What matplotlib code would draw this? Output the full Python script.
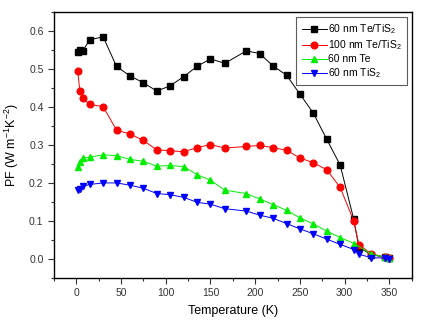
import matplotlib
matplotlib.use("Agg")
import matplotlib.pyplot as plt
from matplotlib.ticker import MultipleLocator

plt.rcParams['font.family'] = ['Liberation Sans', 'DejaVu Sans']
plt.rcParams['mathtext.fontset'] = 'custom'
plt.rcParams['mathtext.rm'] = 'Liberation Sans'
plt.rcParams['mathtext.it'] = 'Liberation Sans'

# temperature (K) and power factor values
t_tete = [1.5, 4, 7, 15, 30, 45, 60, 75, 90, 105, 120, 135, 150, 166, 190, 205,
          220, 235, 250, 265, 280, 295, 310, 316, 330, 345, 350]
pf_tete60 = [0.545, 0.550, 0.547, 0.577, 0.585, 0.507, 0.482, 0.464, 0.442, 0.456,
             0.480, 0.507, 0.527, 0.515, 0.548, 0.541, 0.508, 0.484, 0.434, 0.384,
             0.315, 0.247, 0.106, 0.030, 0.011, 0.004, 0.003]
pf_tete100 = [0.496, 0.443, 0.424, 0.407, 0.401, 0.339, 0.329, 0.312, 0.287, 0.285,
              0.282, 0.293, 0.301, 0.292, 0.296, 0.299, 0.293, 0.286, 0.266, 0.253,
              0.235, 0.188, 0.101, 0.037, 0.013, 0.005, 0.003]

t_te = [1.5, 4, 7, 15, 30, 45, 60, 75, 90, 105, 120, 135, 150, 166, 190, 205,
        220, 235, 250, 265, 280, 295, 311, 330, 345, 350]
pf_te = [0.243, 0.255, 0.266, 0.268, 0.274, 0.272, 0.262, 0.257, 0.244, 0.246,
         0.243, 0.222, 0.207, 0.181, 0.172, 0.158, 0.143, 0.128, 0.108, 0.092,
         0.073, 0.056, 0.040, 0.012, 0.005, 0.002]

t_tis = [1.5, 4, 7, 15, 30, 45, 60, 75, 90, 105, 120, 135, 150, 166, 190, 205,
         220, 235, 250, 265, 280, 295, 311, 316, 330, 345, 350]
pf_tis = [0.182, 0.185, 0.191, 0.196, 0.200, 0.200, 0.194, 0.186, 0.172, 0.169,
          0.162, 0.149, 0.144, 0.132, 0.126, 0.115, 0.107, 0.093, 0.079, 0.066,
          0.052, 0.038, 0.024, 0.012, 0.003, 0.002, 0.000]

fig = plt.figure(figsize=(4.28, 3.28), dpi=100)
ax = fig.add_axes([0.126, 0.153, 0.836, 0.81])

ms = 4.2
lw = 0.7
ax.plot(t_tete, pf_tete60, '-s', color='black', ms=ms, lw=lw, label='60 nm Te/TiS$_2$')
ax.plot(t_tete, pf_tete100, '-o', color='red', ms=ms + 0.6, lw=lw, label='100 nm Te/TiS$_2$')
ax.plot(t_te, pf_te, '-^', color='#00ee00', ms=ms + 0.6, lw=lw, label='60 nm Te')
ax.plot(t_tis, pf_tis, '-v', color='blue', ms=ms + 0.6, lw=lw, label='60 nm TiS$_2$')

ax.set_xlim(-25, 375)
ax.set_ylim(-0.05, 0.65)
ax.xaxis.set_major_locator(MultipleLocator(50))
ax.xaxis.set_minor_locator(MultipleLocator(25))
ax.yaxis.set_major_locator(MultipleLocator(0.1))
ax.yaxis.set_minor_locator(MultipleLocator(0.05))
ax.set_xticks(range(0, 351, 50))
ax.set_yticks([0.0, 0.1, 0.2, 0.3, 0.4, 0.5, 0.6])
ax.set_yticklabels(['0.0', '0.1', '0.2', '0.3', '0.4', '0.5', '0.6'])
ax.tick_params(which='both', direction='out', labelsize=7.5, top=False, right=False,
               width=0.8, colors='#333333')
ax.tick_params(which='major', length=4)
ax.tick_params(which='minor', length=2.5)
for s in ax.spines.values():
    s.set_linewidth(1.0)

ax.set_xlabel('Temperature (K)', fontsize=9, labelpad=5)
ax.set_ylabel('PF (W m$^{-1}$K$^{-2}$)', fontsize=9, labelpad=6)

leg = ax.legend(loc='upper right', fontsize=7.5, frameon=True, fancybox=False,
                edgecolor='#333333', handlelength=2.4, handletextpad=0.1,
                borderpad=0.5, labelspacing=0.2, borderaxespad=0.5)
leg.get_frame().set_linewidth(0.8)

fig.savefig('out.png', dpi=100)
